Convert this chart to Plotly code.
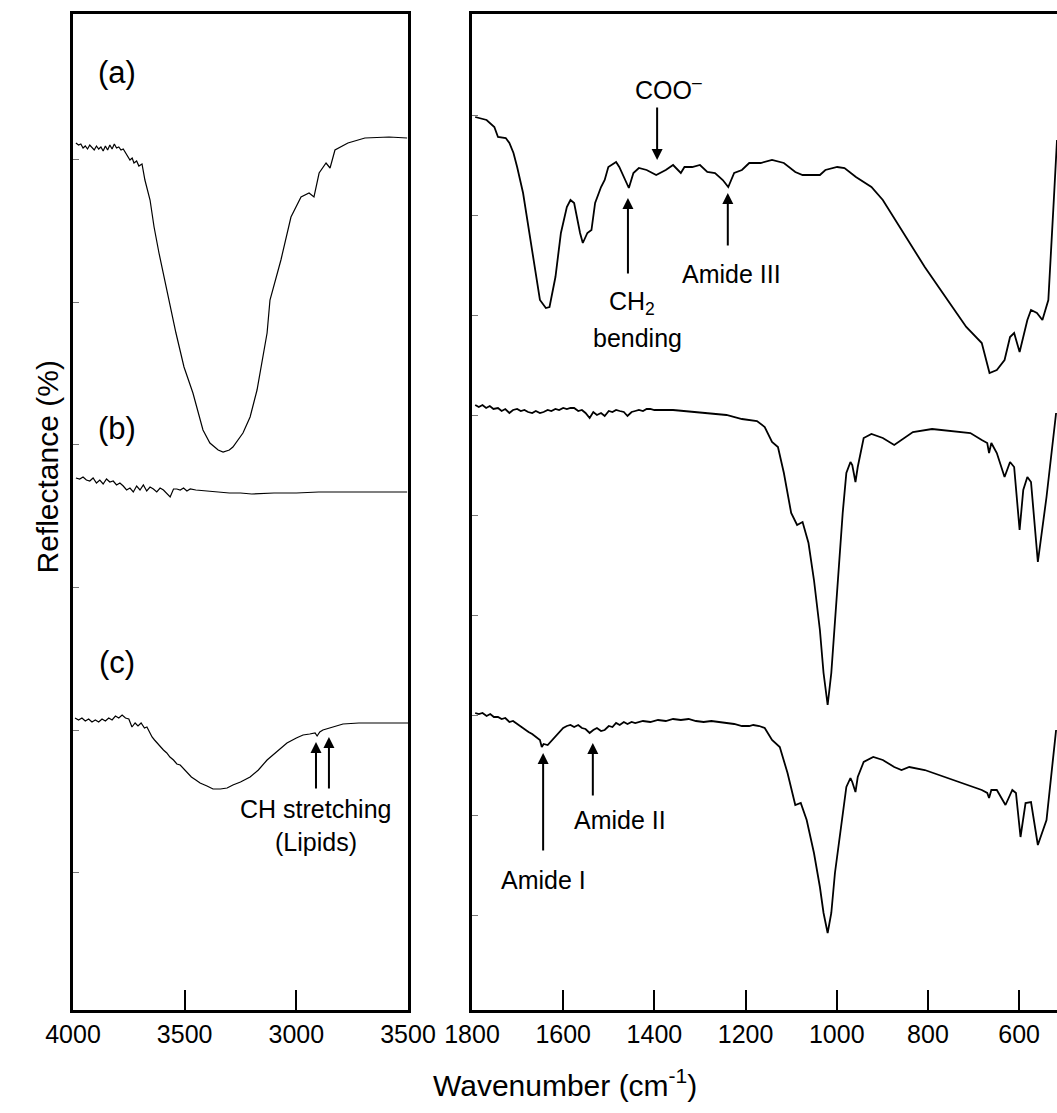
import plotly.graph_objects as go

# ---------------- data (wavenumber cm-1, reflectance a.u.) ----------------
left_a_wn = [3987, 3975, 3965, 3955, 3945, 3935, 3925, 3915, 3905, 3895, 3885, 3875, 3865, 3855, 3845,
             3835, 3825, 3815, 3805, 3795, 3785, 3775, 3767, 3754, 3745, 3735, 3727, 3715, 3705, 3691,
             3678, 3655, 3637, 3615, 3584, 3570, 3539, 3503, 3463, 3418, 3387, 3350, 3328, 3300, 3284,
             3239, 3207, 3176, 3131, 3118, 3069, 3024, 2979, 2943, 2921, 2898, 2867, 2849, 2827, 2769,
             2693, 2585, 2504]
left_a = [867, 865, 866, 862, 864, 861, 865, 863, 860, 864, 861, 863, 859, 864, 860,
          865, 861, 866, 862, 863, 860, 861, 858, 853, 850, 852, 847, 849, 844, 846,
          830, 810, 783, 757, 723, 710, 677, 643, 617, 580, 567, 560, 558, 560, 563,
          577, 593, 620, 677, 710, 750, 793, 813, 817, 813, 837, 847, 842, 860, 867,
          872, 873, 872]

left_b_wn = [3987, 3970, 3955, 3940, 3925, 3910, 3895, 3880, 3865, 3850,
             3835, 3820, 3805, 3790, 3775, 3760, 3745, 3730, 3715, 3700,
             3685, 3670, 3655, 3640, 3625, 3610, 3595, 3580, 3565, 3550,
             3535, 3520, 3505, 3490, 3475, 3450, 3400, 3350, 3300, 3250,
             3200, 3100, 3000, 2900, 2800, 2700, 2600, 2504]
left_b = [532, 531, 533, 530, 529, 532, 527, 530, 526, 531,
          528, 529, 525, 527, 524, 520, 522, 518, 524, 520,
          525, 519, 523, 521, 518, 522, 520, 517, 513, 521,
          521, 520, 522, 519, 521, 520, 519, 518, 517, 517,
          516, 517, 517, 518, 518, 518, 518, 518]

left_c_wn = [3991, 3975, 3960, 3945, 3930, 3915, 3900, 3885, 3870, 3855,
             3840, 3825, 3810, 3795, 3780, 3765, 3750, 3736, 3722, 3709,
             3695, 3680, 3669, 3658, 3646, 3635, 3624, 3610, 3595, 3580,
             3566, 3550, 3535, 3520, 3507, 3490, 3470, 3450, 3431, 3400,
             3373, 3340, 3310, 3284, 3250, 3207, 3170, 3131, 3090, 3042,
             3000, 2970, 2940, 2916, 2907, 2895, 2881, 2865, 2849, 2820,
             2791, 2720, 2639, 2570, 2500]
left_c = [292, 290, 292, 289, 291, 288, 290, 288, 291, 289,
          292, 290, 294, 292, 295, 292, 291, 283, 287, 284,
          287, 282, 283, 278, 273, 270, 267, 263, 260, 257,
          253, 250, 246, 245, 242, 237, 233, 230, 227, 224,
          221, 221, 222, 225, 228, 233, 240, 250, 258, 267,
          272, 275, 276, 277, 274, 278, 280, 281, 282, 284,
          286, 287, 287, 287, 287]

right_a_wn = [1793, 1768, 1751, 1743, 1726, 1718, 1709, 1701, 1688, 1676, 1663, 1651, 1638, 1630, 1617,
              1605, 1592, 1584, 1576, 1563, 1557, 1547, 1538, 1530, 1517, 1509, 1501, 1484, 1477, 1467,
              1456, 1446, 1434, 1417, 1396, 1375, 1359, 1342, 1334, 1317, 1300, 1284, 1267, 1250, 1238,
              1225, 1208, 1192, 1167, 1142, 1116, 1091, 1075, 1037, 1025, 999, 983, 958, 924, 899,
              858, 807, 757, 716, 682, 665, 649, 632, 620, 611, 599, 582, 574, 561, 549,
              536, 524, 517]
right_a = [893, 890, 883, 873, 872, 867, 857, 843, 817, 783, 747, 710, 702, 703, 733,
           777, 803, 810, 807, 777, 767, 777, 780, 807, 823, 830, 843, 848, 843, 833,
           822, 837, 842, 840, 835, 840, 845, 837, 843, 843, 845, 838, 837, 830, 823,
           837, 840, 847, 847, 850, 847, 838, 835, 835, 840, 843, 842, 833, 823, 810,
           780, 743, 710, 683, 667, 637, 640, 650, 673, 677, 658, 690, 700, 697, 690,
           710, 810, 870]

right_b_wn = [1793, 1785, 1777, 1769, 1761, 1753, 1743, 1735, 1727, 1718,
              1710, 1701, 1693, 1685, 1677, 1668, 1660, 1651, 1643, 1634,
              1626, 1617, 1609, 1600, 1592, 1584, 1576, 1567, 1559, 1551,
              1542, 1534, 1526, 1517, 1509, 1500, 1492, 1484, 1476, 1467,
              1459, 1450, 1442, 1434, 1425, 1417, 1409, 1400,
              1359, 1309, 1242, 1208, 1175, 1158, 1142, 1129, 1116, 1100,
              1087, 1075, 1062, 1050, 1037, 1029, 1020, 1012, 1004, 995,
              987, 979, 970, 966, 959, 954, 941, 924, 899, 874,
              858, 833, 791, 741, 707, 682, 670, 666, 661, 649,
              632, 620, 611, 599, 591, 582, 574, 559, 540, 519]
right_b = [605, 603, 605, 602, 604, 601, 602, 599, 601, 597,
           600, 601, 599, 600, 598, 597, 599, 597, 598, 600,
           599, 601, 600, 602, 601, 602, 602, 599, 600, 597,
           592, 598, 595, 597, 594, 599, 598, 600, 599, 598,
           594, 598, 599, 600, 599, 601, 601, 600,
           600, 598, 595, 591, 589, 583, 568, 563, 537, 497,
           485, 488, 467, 430, 380, 337, 305, 337, 390, 447,
           497, 537, 548, 545, 528, 543, 572, 576, 572, 565,
           570, 578, 581, 579, 577, 570, 567, 557, 567, 557,
           533, 548, 543, 480, 520, 533, 528, 448, 513, 597]

right_c_wn = [1793, 1785, 1777, 1768, 1760, 1752, 1743, 1735, 1727, 1718,
              1710, 1701, 1693, 1685, 1676, 1668, 1660, 1651, 1647, 1643,
              1634, 1626, 1617, 1609, 1600, 1592, 1584, 1576, 1567, 1559,
              1551, 1542, 1534, 1526, 1517, 1509, 1500, 1492, 1484, 1476,
              1467, 1459, 1450, 1442, 1425, 1409, 1392, 1375, 1359, 1342,
              1325, 1309, 1292, 1275, 1258, 1242, 1225, 1208, 1192, 1183,
              1170, 1158,
              1142, 1125, 1108, 1091, 1079, 1066, 1050, 1037, 1029, 1020,
              1012, 1004, 991, 979, 970, 966, 959, 954, 941, 920,
              899, 874, 858, 841, 807, 757, 716, 682, 670, 666,
              661, 649, 630, 615, 607, 597, 586, 574, 559, 540, 519]
right_c = [297, 296, 297, 294, 296, 293, 293, 291, 292, 288,
           289, 286, 283, 281, 278, 276, 273, 270, 263, 266,
           265, 269, 274, 278, 282, 284, 285, 283, 285, 282,
           281, 277, 280, 282, 279, 280, 284, 283, 287, 285,
           288, 286, 288, 287, 289, 288, 290, 289, 291, 290,
           291, 289, 288, 289, 288, 287, 286, 284, 284, 285,
           284, 282,
           270, 263, 237, 205, 207, 190, 157, 123, 97, 77,
           97, 137, 183, 223, 232, 228, 218, 233, 248, 253,
           250, 243, 240, 243, 240, 232, 225, 220, 217, 212,
           220, 220, 205, 220, 217, 173, 207, 208, 165, 190, 280]

left_tickvals = [4000, 3500, 3000, 2500]
left_ticktext = ["4000", "3500", "3000", "3500"]
right_tickvals = [1800, 1600, 1400, 1200, 1000, 800, 600]
right_ticktext = ["1800", "1600", "1400", "1200", "1000", "800", "600"]
left_ytickvals = [138, 280, 423, 566, 708, 851]
right_ytickvals = [95, 195, 295, 395, 495, 595, 695, 795, 895]

# ---------------- figure ----------------
W, H = 1057, 1113
FONT = "Liberation Sans, Arial, sans-serif"
fig = go.Figure()

for xs, ys in [(left_a_wn, left_a), (left_b_wn, left_b), (left_c_wn, left_c)]:
    fig.add_trace(go.Scatter(x=xs, y=ys, mode="lines", line=dict(color="black", width=1.2),
                             xaxis="x", yaxis="y", showlegend=False, hoverinfo="skip"))
for xs, ys in [(right_a_wn, right_a), (right_b_wn, right_b), (right_c_wn, right_c)]:
    fig.add_trace(go.Scatter(x=xs, y=ys, mode="lines", line=dict(color="black", width=1.8),
                             xaxis="x2", yaxis="y2", showlegend=False, hoverinfo="skip"))

ydom = [(H - 1010) / H, (H - 14) / H]
common_x = dict(showline=True, linewidth=3, linecolor="black", ticks="inside", ticklen=20,
                tickwidth=2, tickcolor="black", showgrid=False, zeroline=False, automargin=False,
                tickfont=dict(family=FONT, size=25, color="black"))
common_y = dict(showline=True, linewidth=3, linecolor="black", ticks="inside", ticklen=6,
                tickwidth=1, tickcolor="#777", showgrid=False, zeroline=False, automargin=False,
                showticklabels=False, range=[0, 996], domain=ydom)

fig.update_layout(
    width=W, height=H, margin=dict(l=0, r=0, t=0, b=0, autoexpand=False),
    paper_bgcolor="white", plot_bgcolor="white",
    xaxis=dict(domain=[73 / W, 408 / W], range=[4000, 2500], tickvals=left_tickvals,
               ticktext=left_ticktext, mirror=True, anchor="y", **common_x),
    yaxis=dict(anchor="x", mirror=True, tickvals=left_ytickvals, **common_y),
    xaxis2=dict(domain=[472 / W, 1.0], range=[1800, 517], tickvals=right_tickvals,
                ticktext=right_ticktext, mirror=True, anchor="y2", **common_x),
    yaxis2=dict(anchor="x2", mirror=False, tickvals=right_ytickvals, **common_y),
)

ann = []
def txt(x, y, s, xref, yref, size=25, **kw):
    ann.append(dict(x=x, y=y, xref=xref, yref=yref, text=s, showarrow=False,
                    font=dict(family=FONT, size=size, color="black"), **kw))

def arrow(x, y, ax, ay, xref, yref):
    ann.append(dict(x=x, y=y, ax=ax, ay=ay, xref=xref, yref=yref, axref=xref, ayref=yref,
                    text="", showarrow=True, arrowhead=2, arrowsize=1.1, arrowwidth=2,
                    arrowcolor="black", standoff=0))

# panel labels
txt(3803, 938, "(a)", "x", "y", size=31)
txt(3803, 582, "(b)", "x", "y", size=31)
txt(3803, 348, "(c)", "x", "y", size=31)

# left annotations
arrow(2912, 268, 2912, 220, "x", "y")
arrow(2854, 273, 2854, 220, "x", "y")
txt(2912, 201, "CH stretching", "x", "y")
txt(2912, 168, "(Lipids)", "x", "y")

# right annotations
arrow(1394, 850, 1394, 904, "x2", "y2")
txt(1368, 922, "COO<sup>–</sup>", "x2", "y2")
arrow(1458, 812, 1458, 735, "x2", "y2")
txt(1449, 707, "CH<sub>2</sub>", "x2", "y2")
txt(1436, 672, "bending", "x2", "y2")
arrow(1239, 817, 1239, 763, "x2", "y2")
txt(1230, 736, "Amide III", "x2", "y2")
arrow(1644, 257, 1644, 158, "x2", "y2")
txt(1644, 130, "Amide I", "x2", "y2")
arrow(1535, 267, 1535, 213, "x2", "y2")
txt(1475, 190, "Amide II", "x2", "y2")

# axis titles
txt(28 / W, (H - 467) / H, "Reflectance (%)", "paper", "paper", size=30, textangle=-90)
txt(565 / W, (H - 1104) / H, "Wavenumber (cm<sup>-1</sup>)", "paper", "paper", size=30)

fig.update_layout(annotations=ann)
fig.write_html("out.html", config={"displayModeBar": False},
               post_script="document.body.style.margin='0';document.body.style.overflow='hidden';")
